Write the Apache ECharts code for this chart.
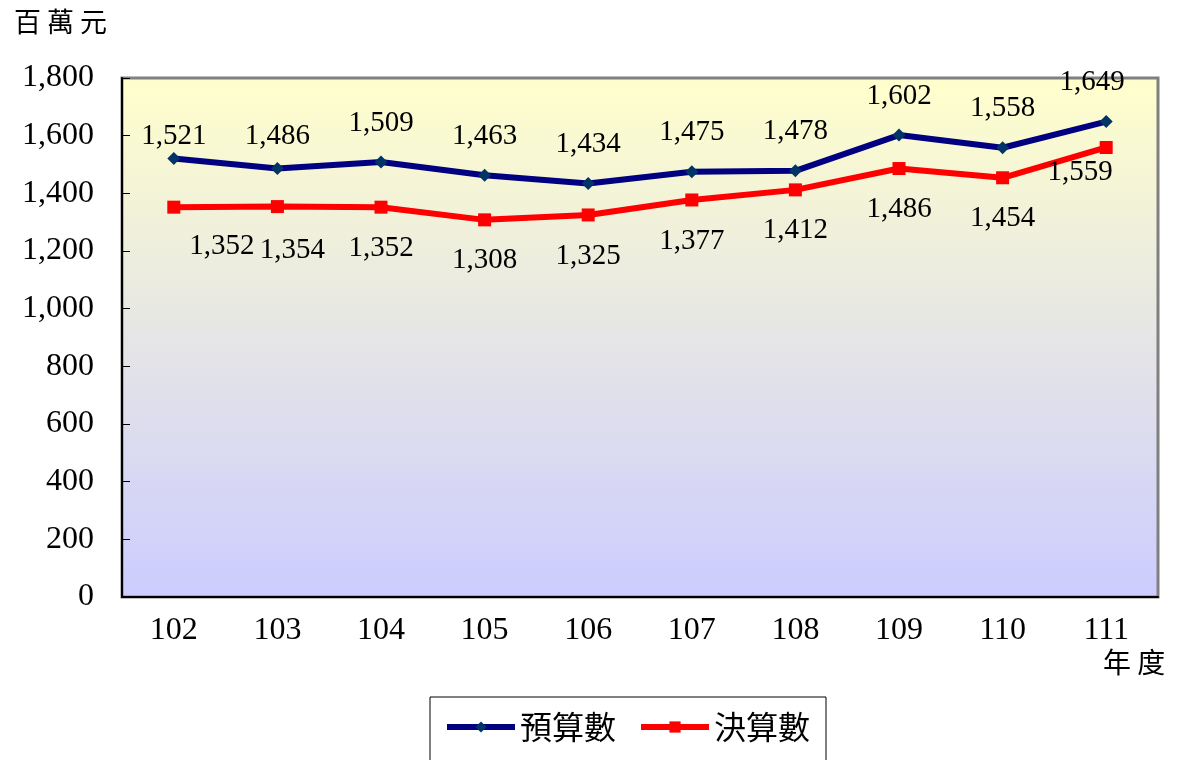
<!DOCTYPE html>
<html>
<head>
<meta charset="utf-8">
<script src="https://cdn.jsdelivr.net/npm/echarts@6/dist/echarts.min.js"></script>
<style>
  html, body { margin: 0; padding: 0; background: #fff; }
  #chart { width: 1177px; height: 760px; }
</style>
</head>
<body>
<div id="chart"></div>
<script>
// 年度
const years = ["102", "103", "104", "105", "106", "107", "108", "109", "110", "111"];
// 預算數 (百萬元)
const budget = [1521, 1486, 1509, 1463, 1434, 1475, 1478, 1602, 1558, 1649];
// 決算數 (百萬元)
const actual = [1352, 1354, 1352, 1308, 1325, 1377, 1412, 1486, 1454, 1559];

// label nudges so the labels sit where the original chart put them
const budgetLabelOffset = [[0, 17], [0, 7], [0, 0], [0, 0], [0, 0], [0, 0], [0, 0], [0, 0], [0, 0], [-14, 0]];
const actualLabelOffset = [[48, -2], [15, 3], [0, 0], [0, 0], [0, 0], [0, 0], [0, 0], [0, 0], [0, 0], [-26, -16]];

const numFont = '"Liberation Serif", serif';
const cjkFont = '"Noto Sans CJK TC", sans-serif';

const fmt = v => v.toLocaleString("en-US");

const withOffsets = (values, offsets) =>
    values.map((v, i) => ({ value: v, label: { offset: offsets[i] } }));

const chart = echarts.init(document.getElementById("chart"));

chart.setOption({
    animation: false,
    grid: {
        left: 122, right: 19, top: 78, bottom: 163,
        show: true,
        borderColor: "#808080",
        borderWidth: 3,
        backgroundColor: new echarts.graphic.LinearGradient(0, 0, 0, 1, [
            { offset: 0, color: "#FFFFCC" },
            { offset: 1, color: "#CCCCFF" }
        ])
    },
    xAxis: {
        type: "category",
        data: years,
        boundaryGap: true,
        axisLine: { lineStyle: { color: "#000", width: 2 } },
        axisTick: { inside: true, length: 10, lineStyle: { color: "#000" } },
        axisLabel: { color: "#000", fontFamily: numFont, fontSize: 32, margin: 18 }
    },
    yAxis: {
        type: "value",
        min: 0, max: 1800, interval: 200,
        splitLine: { show: false },
        axisLine: { show: true, lineStyle: { color: "#000", width: 2 } },
        axisTick: { show: true, inside: true, length: 8, lineStyle: { color: "#000" } },
        axisLabel: {
            color: "#000", fontFamily: numFont, fontSize: 32, margin: 28,
            formatter: v => fmt(v)
        }
    },
    legend: {
        left: 430, top: 697,
        width: 394,
        padding: [14, 16, 20, 14],
        borderColor: "#000",
        borderWidth: 1,
        itemWidth: 68, itemHeight: 14,
        itemGap: 22,
        lineStyle: { width: 6 },
        textStyle: { fontFamily: cjkFont, fontSize: 32, color: "#000" },
        data: ["預算數", "決算數"]
    },
    graphic: [
        { type: "text", left: 14, top: 8,
          style: { text: "百 萬 元", font: "27px " + cjkFont, fill: "#000" } },
        { type: "text", left: 1103, top: 648,
          style: { text: "年 度", font: "28px " + cjkFont, fill: "#000" } }
    ],
    series: [
        {
            name: "預算數",
            type: "line",
            data: withOffsets(budget, budgetLabelOffset),
            symbol: "diamond",
            symbolSize: 13,
            lineStyle: { color: "#000080", width: 6 },
            itemStyle: { color: "#003366" },
            label: {
                show: true, position: "top", distance: 18,
                fontFamily: numFont, fontSize: 29, color: "#000",
                formatter: p => fmt(p.value)
            },
            z: 3
        },
        {
            name: "決算數",
            type: "line",
            data: withOffsets(actual, actualLabelOffset),
            symbol: "rect",
            symbolSize: 13,
            lineStyle: { color: "#FF0000", width: 6 },
            itemStyle: { color: "#FF0000" },
            label: {
                show: true, position: "bottom", distance: 20,
                fontFamily: numFont, fontSize: 29, color: "#000",
                formatter: p => fmt(p.value)
            },
            z: 2
        }
    ]
});
</script>
</body>
</html>
